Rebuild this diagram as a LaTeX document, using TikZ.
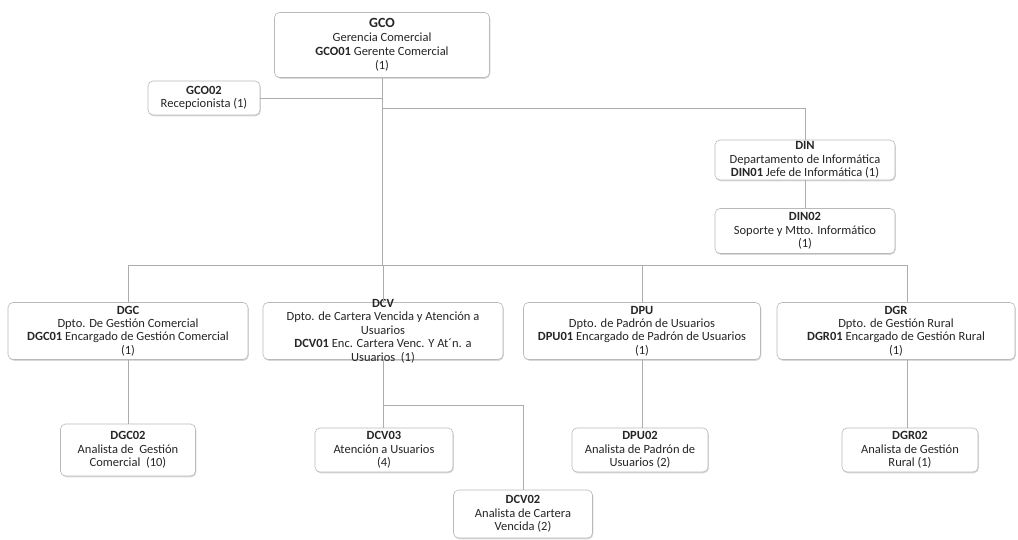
\documentclass[tikz,border=0pt]{standalone}
\usepackage{fontspec}
\setmainfont{Carlito}
\usetikzlibrary{shadows}
\tikzset{
  box/.style={draw=gray!55, line width=0.6pt, rounded corners=5pt, fill=white,
    drop shadow={shadow xshift=0.8pt, shadow yshift=-1.3pt, opacity=0.3}},
  txt/.style={align=center, text=black!85, inner sep=0pt, font=\fontsize{12.5}{13.4}\selectfont},
  bigtxt/.style={align=center, text=black!85, inner sep=0pt, font=\fontsize{12.5}{14}\selectfont},
  conn/.style={draw=gray!65, line width=0.55pt},
  sz/.style 2 args={minimum width=#1pt, minimum height=#2pt, inner sep=0pt}
}
\begin{document}
\begin{tikzpicture}[x=1pt,y=-1pt]
\useasboundingbox[fill=white] (0,0) rectangle (1018,539);

% top
\node[box, sz={215}{65}, label={[bigtxt]center:{{\fontsize{14}{14}\selectfont\bfseries GCO}\\Gerencia Comercial\\\textbf{GCO01} Gerente Comercial\\(1)}}] (GCO) at (382,45) {};
\node[box, sz={112}{34}, label={[txt]center:{\textbf{GCO02}\\Recepcionista (1)}}] (GCO02) at (204,98) {};

% informatica
\node[box, sz={180}{40}, label={[txt]center:{\textbf{DIN}\\Departamento de Informática\\\textbf{DIN01} Jefe de Informática (1)}}] (DIN) at (805,160) {};
\node[box, sz={180}{45}, label={[txt]center:{\textbf{DIN02}\\Soporte y Mtto. Informático\\(1)}}] (DIN02) at (805,231) {};

% departments
\node[box, sz={240}{57}, label={[txt]center:{\textbf{DGC}\\Dpto. De Gestión Comercial\\\textbf{DGC01} Encargado de Gestión Comercial\\(1)}}] (DGC) at (128,331) {};
\node[box, sz={240}{57}, label={[txt]center:{\textbf{DCV}\\Dpto. de Cartera Vencida y Atención a\\Usuarios\\\textbf{DCV01} Enc. Cartera Venc. Y At´n. a\\Usuarios~~(1)}}] (DCV) at (383,331) {};
\node[box, sz={237}{57}, label={[txt]center:{\textbf{DPU}\\Dpto. de Padrón de Usuarios\\\textbf{DPU01} Encargado de Padrón de Usuarios\\(1)}}] (DPU) at (642,331) {};
\node[box, sz={238}{57}, label={[txt]center:{\textbf{DGR}\\Dpto. de Gestión Rural\\\textbf{DGR01} Encargado de Gestión Rural\\(1)}}] (DGR) at (896,331) {};

% analysts
\node[box, sz={135}{52}, label={[txt]center:{\textbf{DGC02}\\Analista de~~Gestión\\Comercial~~(10)}}] (DGC02) at (128,450) {};
\node[box, sz={138}{44}, label={[txt]center:{\textbf{DCV03}\\Atención a Usuarios\\(4)}}] (DCV03) at (384,450) {};
\node[box, sz={139}{48}, label={[txt]center:{\textbf{DCV02}\\Analista de Cartera\\Vencida (2)}}] (DCV02) at (523,514) {};
\node[box, sz={136}{44}, label={[txt]center:{\textbf{DPU02}\\Analista de Padrón de\\Usuarios (2)}}] (DPU02) at (640,450) {};
\node[box, sz={136}{44}, label={[txt]center:{\textbf{DGR02}\\Analista de Gestión\\Rural (1)}}] (DGR02) at (910,450) {};

% connectors
\coordinate (bar) at (0,265);
\coordinate (rline) at (0,108);
\coordinate (g) at (907,265);
\coordinate (br) at (0,405);

\draw[conn] (GCO.south) -- (GCO.south |- bar);
\draw[conn] (GCO.south |- GCO02.east) -- (GCO02.east);
\draw[conn] (GCO.south |- rline) -| (DIN.north);
\draw[conn] (DIN.south) -- (DIN02.north);

\draw[conn] (DGC.north) -- (DGC.north |- bar) -- (g) -- (g |- DGR.north);
\draw[conn] (DCV.north |- bar) -- (DCV.north);
\draw[conn] (DPU.north |- bar) -- (DPU.north);

\draw[conn] (DGC.south) -- (DGC02.north);
\draw[conn] (DCV.south) -- (DCV.south |- DCV03.north);
\draw[conn] (DCV.south |- br) -| (DCV02.north);
\draw[conn] (DPU.south) -- (DPU.south |- DPU02.north);
\draw[conn] (g |- DGR.south) -- (g |- DGR02.north);
\end{tikzpicture}
\end{document}
